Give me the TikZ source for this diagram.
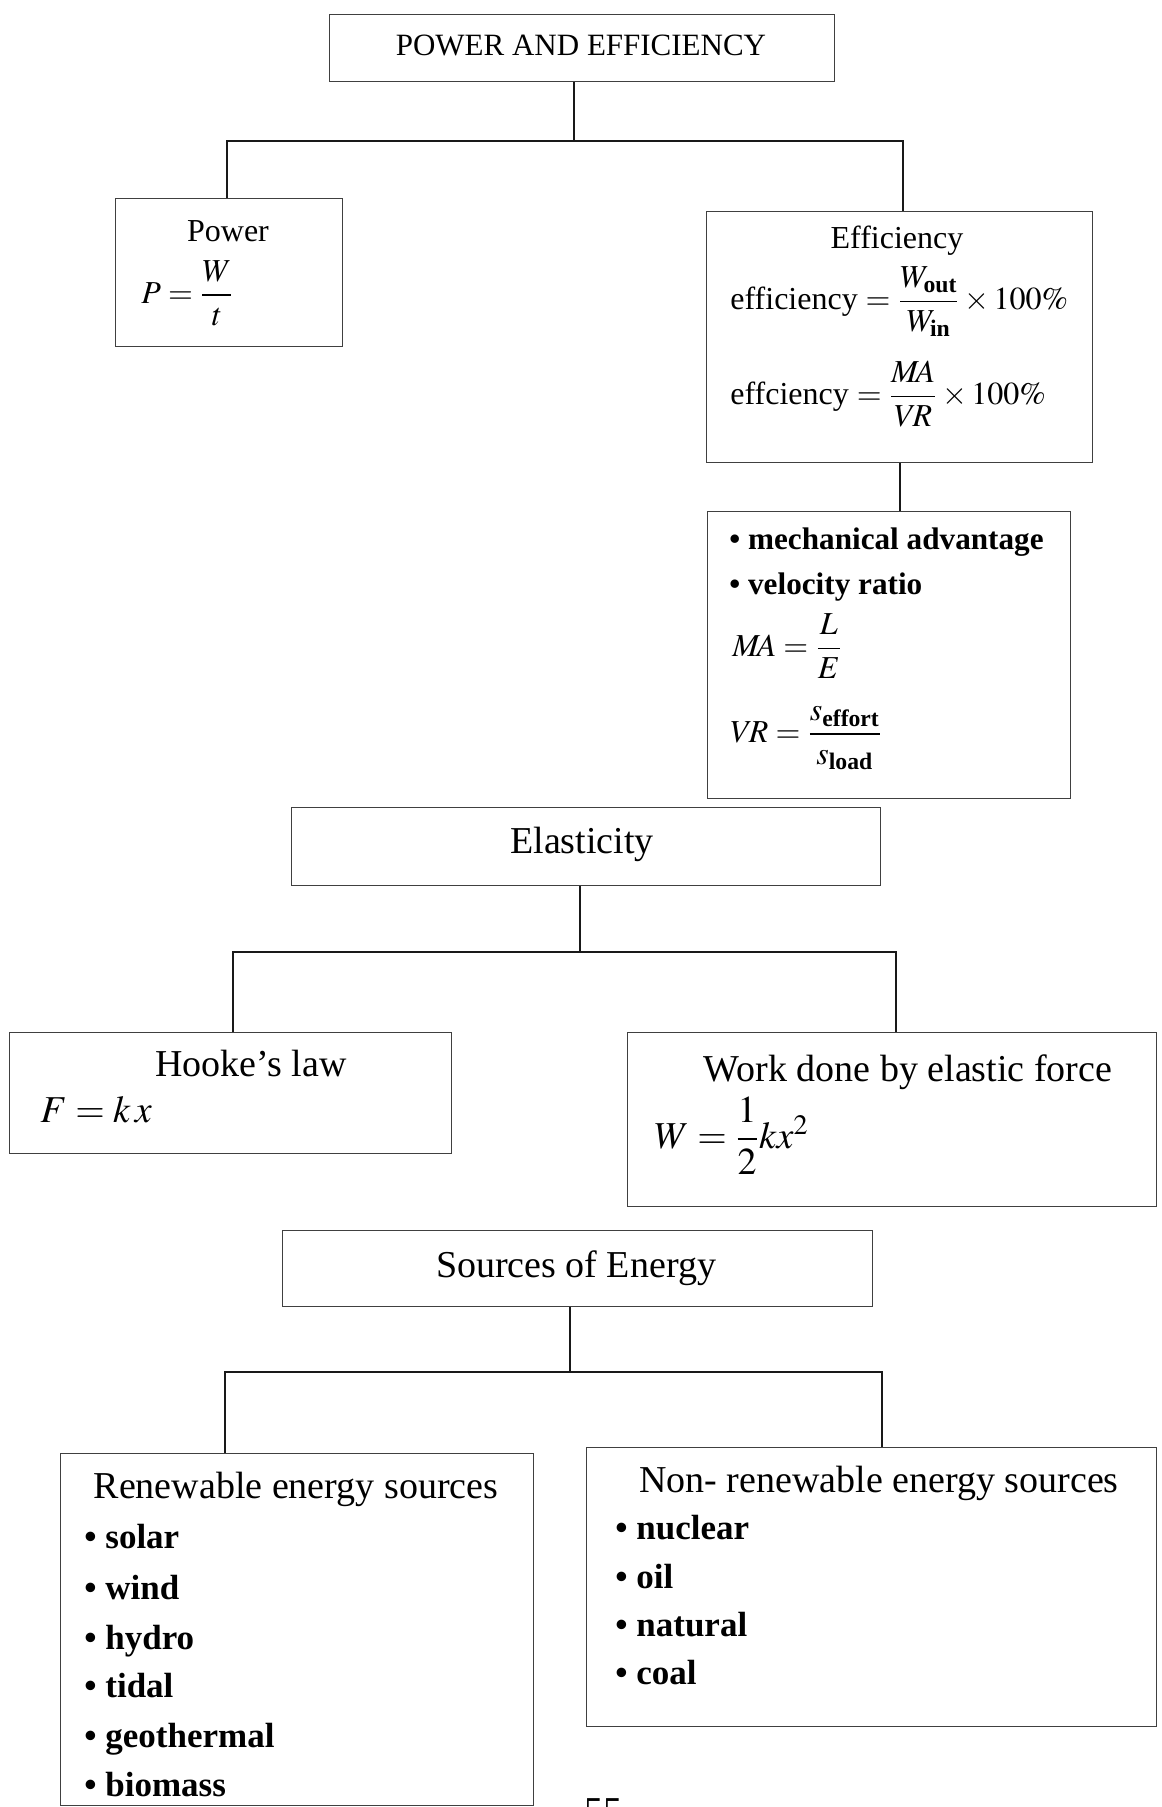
\documentclass[tikz,border=0pt]{standalone}
\usepackage{amsmath}
\usepackage{mathptmx}
\usepackage{fontspec}
\setmainfont{Liberation Serif}
% box given by its name and its corners (x1,y1) (x2,y2) in picture units
\newcommand\placebox[5]{\node[box,minimum width={(#4-#2)*0.5pt},minimum height={(#5-#3)*0.5pt}] (#1) at (#2,#3) {};}
\begin{document}
\begin{tikzpicture}[x=0.5pt,y=-0.5pt,
  box/.style={draw=black!75,line width=0.7pt,inner sep=0pt,anchor=north west},
  link/.style={draw=black!90,line width=1.2pt},
  txt/.style={inner sep=0pt,text=black},
  fa/.style={font=\fontsize{15.5}{18}\selectfont},
  fb/.style={font=\fontsize{16}{19}\selectfont},
  fbb/.style={font=\fontsize{15.6}{19}\selectfont\bfseries},
  fc/.style={font=\fontsize{19}{23}\selectfont},
  fcb/.style={font=\fontsize{17.5}{21}\selectfont\bfseries}]
\useasboundingbox (0,0) rectangle (1161,1807);

% ---- boxes ----
\placebox{title}{329}{14}{834}{81}
\placebox{power}{115}{198}{342}{346}
\placebox{eff}{706}{211}{1092}{462}
\placebox{ma}{707}{511}{1070}{798}
\placebox{elast}{291}{807}{880}{885}
\placebox{hooke}{9}{1032}{451}{1153}
\placebox{work}{627}{1032}{1156}{1206}
\placebox{src}{282}{1230}{872}{1306}
\placebox{renew}{60}{1453}{533}{1805}
\placebox{nonren}{586}{1447}{1156}{1726}

% ---- connectors ----
\coordinate (t1) at (574,141);
\coordinate (p1) at (227,141);
\coordinate (e1) at (903,141);
\draw[link] (title.south -| t1) -- (t1);
\draw[link] (p1 |- power.north) -- (p1) -- (e1) -- (e1 |- eff.north);
\coordinate (m1) at (900,480);
\draw[link] (m1 |- eff.south) -- (m1 |- ma.north);

\coordinate (t2) at (580,952);
\coordinate (h2) at (233,952);
\coordinate (w2) at (896,952);
\draw[link] (elast.south -| t2) -- (t2);
\draw[link] (h2 |- hooke.north) -- (h2) -- (w2) -- (w2 |- work.north);

\coordinate (t3) at (570,1372);
\coordinate (r3) at (225,1372);
\coordinate (n3) at (882,1372);
\draw[link] (src.south -| t3) -- (t3);
\draw[link] (r3 |- renew.north) -- (r3) -- (n3) -- (n3 |- nonren.north);

% ---- texts ----
\node[txt,fa,anchor=base] (titletx) at (581,56) {POWER AND EFFICIENCY};

\node[txt,fb,anchor=base] (powertx) at (228,242) {Power};
\node[txt,fb,anchor=west] (powerfm) at (141,293) {$P=\dfrac{W}{t}$};

\node[txt,fb,anchor=base] (efftx) at (897,249) {Efficiency};
\node[txt,fb,anchor=west] (efffm1) at (730,302)
  {efficiency $=\dfrac{W_{\textbf{out}}}{W_{\textbf{in}}}\times 100\%$};
\node[txt,fb,anchor=west] (efffm2) at (730,394)
  {effciency $=\dfrac{M\!A}{V\!R}\times 100\%$};

\node[txt,fbb,anchor=base west] (matx1) at (729,550) {\textbullet\ mechanical advantage};
\node[txt,fbb,anchor=base west] (matx2) at (729,594) {\textbullet\ velocity ratio};
\node[txt,fb,anchor=west] (mafm) at (732,646) {$M\!A=\dfrac{L}{E}$};
\node[txt,fb,anchor=west] (vrfm) at (730,738)
  {$V\!R=\dfrac{s_{\textbf{effort}}}{s_{\textbf{load}}}$};

\node[txt,fc,anchor=base] (elasttx) at (582,853) {Elasticity};
\node[txt,fc,anchor=base] (hooketx) at (251,1076) {Hooke’s law};
\node[txt,fc,anchor=base west] (hookefm) at (40,1122) {$F=k\,x$};
\node[txt,fc,anchor=base] (worktx) at (908,1081) {Work done by elastic force};
\node[txt,fc,anchor=west] (workfm) at (654,1136) {$W=\dfrac{1}{2}kx^{2}$};

\node[txt,fc,anchor=base] (srctx) at (576,1277) {Sources of Energy};
\node[txt,fc,anchor=base] (renewtx) at (296,1498) {Renewable energy sources};
\node[txt,fcb,anchor=base west] (rn1) at (84,1548) {\textbullet\ solar};
\node[txt,fcb,anchor=base west] (rn2) at (84,1599) {\textbullet\ wind};
\node[txt,fcb,anchor=base west] (rn3) at (84,1649) {\textbullet\ hydro};
\node[txt,fcb,anchor=base west] (rn4) at (84,1697) {\textbullet\ tidal};
\node[txt,fcb,anchor=base west] (rn5) at (84,1747) {\textbullet\ geothermal};
\node[txt,fcb,anchor=base west] (rn6) at (84,1796) {\textbullet\ biomass};

\node[txt,fc,anchor=base] (nonrentx) at (879,1492) {Non- renewable energy sources};
\node[txt,fcb,anchor=base west] (nr1) at (615,1539) {\textbullet\ nuclear};
\node[txt,fcb,anchor=base west] (nr2) at (615,1588) {\textbullet\ oil};
\node[txt,fcb,anchor=base west] (nr3) at (615,1636) {\textbullet\ natural};
\node[txt,fcb,anchor=base west] (nr4) at (615,1684) {\textbullet\ coal};

% page number at the foot of the sheet
\node[txt,fc,anchor=base] (pageno) at (603,1823) {55};
\end{tikzpicture}
\end{document}
